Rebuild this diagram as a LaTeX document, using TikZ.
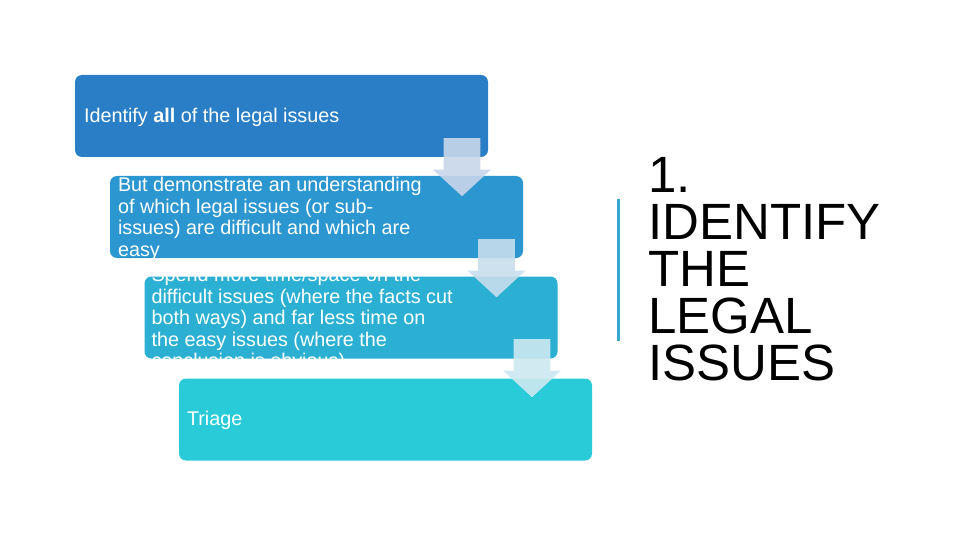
\documentclass[tikz,border=0pt]{standalone}
\usepackage{fontspec}
\setmainfont{Liberation Sans}
\usetikzlibrary{shapes.arrows}

\definecolor{stepone}{RGB}{42,126,198}
\definecolor{steptwo}{RGB}{43,150,207}
\definecolor{stepthree}{RGB}{43,176,211}
\definecolor{stepfour}{RGB}{42,203,216}
\definecolor{flowone}{RGB}{200,214,234}
\definecolor{flowtwo}{RGB}{200,222,236}
\definecolor{flowthree}{RGB}{204,232,240}
\definecolor{accent}{RGB}{57,168,208}

\begin{document}
\begin{tikzpicture}[x=1pt, y=-1pt,
    stage/.style={rectangle, rounded corners=7pt, minimum width=413pt, minimum height=82pt, inner sep=0pt},
    stagetext/.style={anchor=west, align=left, text=white, inner sep=0pt, font=\fontsize{19.8}{21.5}\selectfont},
    downarrow/.style={single arrow, single arrow tip angle=95, rotate=-90, anchor=tail, minimum height=58pt, minimum width=58pt, inner xsep=0pt, inner ysep=12pt, fill opacity=0.9}]

        \useasboundingbox (0,0) rectangle (960,540);

        %===========================
        % Stages
        %===========================
        \node (B1) at (281.5,116) [stage, fill=stepone]{};
        \node (B2) at (316.5,217) [stage, fill=steptwo]{};
        \node (B3) at (351,317.5) [stage, fill=stepthree]{};
        \node (B4) at (385.5,419.5) [stage, fill=stepfour]{};

        \node (L1) at ([xshift=9pt,yshift=-1pt]B1.west) [stagetext]{Identify \textbf{all} of the legal issues};
        \node (L2) at ([xshift=8pt,yshift=-2pt]B2.west) [stagetext]{But demonstrate an understanding\\of which legal issues (or sub-\\issues) are difficult and which are\\easy};
        \node (L3) at ([xshift=7pt,yshift=-2pt]B3.west) [stagetext]{Spend more time/space on the\\difficult issues (where the facts cut\\both ways) and far less time on\\the easy issues (where the\\conclusion is obvious)};
        \node (L4) at ([xshift=8pt,yshift=-1pt]B4.west) [stagetext]{Triage};

        %===========================
        % Arrows
        %===========================
        \node (A1) at (462,138) [downarrow, fill=flowone]{};
        \node (A2) at (496.5,239) [downarrow, fill=flowtwo]{};
        \node (A3) at (532,339) [downarrow, fill=flowthree]{};

        %===========================
        % Title
        %===========================
        \draw[accent, line width=3pt] (618,199) -- (618,341);
        \node (T) at (648,269) [anchor=west, align=left, inner sep=0pt, font=\fontsize{51}{47}\selectfont]{1.\\IDENTIFY\\THE\\LEGAL\\ISSUES};
\end{tikzpicture}
\end{document}
